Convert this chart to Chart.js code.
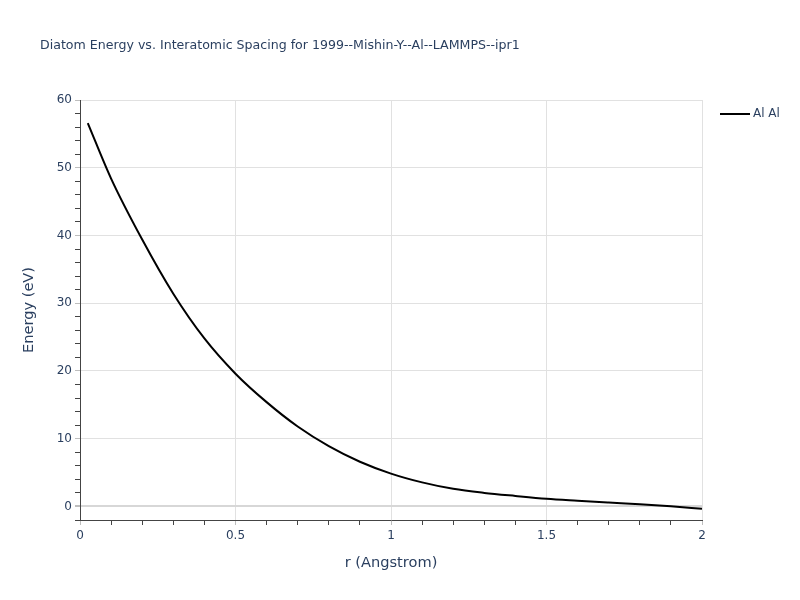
<!DOCTYPE html>
<html>
<head>
<meta charset="utf-8">
<script src="https://cdn.jsdelivr.net/npm/chart.js@4"></script>
<style>
  body { margin: 0; background: #fff; }
  canvas { display: block; }
</style>
</head>
<body>
<canvas id="myChart" width="800" height="600"></canvas>
<script>
const seriesName = 'Al Al';
const chartTitle = 'Diatom Energy vs. Interatomic Spacing for 1999--Mishin-Y--Al--LAMMPS--ipr1';
const rValues = [0.025, 0.1, 0.2, 0.3, 0.4, 0.5, 0.6, 0.7, 0.8, 0.9, 1.0,
                 1.1, 1.2, 1.3, 1.4, 1.5, 1.6, 1.7, 1.8, 1.9, 2.0];
const energyValues = [56.6, 48.4, 39.4, 31.4, 24.8, 19.6, 15.4, 11.8, 8.9, 6.6, 4.85,
                      3.55, 2.6, 2.0, 1.55, 1.14, 0.85, 0.58, 0.32, 0.02, -0.34];
const xTickLabels = ['0', '0.5', '1', '1.5', '2'];
const yTickLabels = ['0', '10', '20', '30', '40', '50', '60'];

const textColor = '#2a3f5f';
const gridColor = 'rgb(225,225,225)';
const majorTickColor = 'rgb(190,190,190)';
const fontFamily = '"DejaVu Sans", Verdana, sans-serif';

const points = rValues.map((r, i) => ({ x: r, y: energyValues[i] }));

// title and legend drawn at fixed spots outside the plot
const decorPlugin = {
  id: 'decor',
  afterDraw(chart) {
    const ctx = chart.ctx;
    ctx.save();
    ctx.fillStyle = textColor;
    ctx.font = '12.6px ' + fontFamily;
    ctx.textBaseline = 'middle';
    ctx.textAlign = 'left';
    ctx.fillText(chartTitle, 40, 46);

    ctx.strokeStyle = '#000';
    ctx.lineWidth = 2;
    ctx.beginPath();
    ctx.moveTo(720, 114);
    ctx.lineTo(750, 114);
    ctx.stroke();
    ctx.font = '12px ' + fontFamily;
    ctx.fillText(seriesName, 753, 114);
    ctx.restore();
  }
};

const isMajorX = v => Math.abs(v * 2 - Math.round(v * 2)) < 1e-6;
const isMajorY = v => Math.abs(v / 10 - Math.round(v / 10)) < 1e-6;

new Chart(document.getElementById('myChart'), {
  type: 'scatter',
  data: {
    datasets: [{
      label: seriesName,
      data: points,
      showLine: true,
      borderColor: '#000',
      borderWidth: 2,
      pointRadius: 0,
      cubicInterpolationMode: 'monotone',
      fill: false,
    }],
  },
  options: {
    responsive: false,
    animation: false,
    layout: { padding: { left: 0, top: 100, right: 98, bottom: 0 } },
    plugins: {
      legend: { display: false },
      tooltip: { enabled: false },
    },
    scales: {
      x: {
        type: 'linear',
        min: 0,
        max: 2,
        afterFit: s => { s.height = 80; },
        afterBuildTicks: s => {
          const t = [];
          for (let i = 0; i <= 20; i++) t.push({ value: i / 10 });
          s.ticks = t;
        },
        ticks: {
          autoSkip: false,
          maxRotation: 0,
          padding: 4,
          color: textColor,
          font: { family: fontFamily, size: 12 },
          callback: v => isMajorX(v) ? xTickLabels[Math.round(v * 2)] : '',
        },
        grid: {
          color: c => (c.tick && isMajorX(c.tick.value)) ? gridColor : 'rgba(0,0,0,0)',
          tickColor: c => (c.tick && isMajorX(c.tick.value)) ? majorTickColor : '#444',
          tickLength: 5,
        },
        border: { display: true, color: '#444', width: 1 },
        title: {
          display: true,
          text: 'r (Angstrom)',
          color: textColor,
          font: { family: fontFamily, size: 14.6 },
          padding: { top: 0, bottom: 28 },
        },
      },
      y: {
        type: 'linear',
        min: -2,
        max: 60,
        afterFit: s => { s.width = 80; },
        afterBuildTicks: s => {
          const t = [];
          for (let v = -2; v <= 60; v += 2) t.push({ value: v });
          s.ticks = t;
        },
        ticks: {
          autoSkip: false,
          padding: 3,
          color: textColor,
          font: { family: fontFamily, size: 12 },
          callback: v => isMajorY(v) ? yTickLabels[Math.round(v / 10)] : '',
        },
        grid: {
          color: c => (c.tick && isMajorY(c.tick.value)) ? (c.tick.value === 0 ? 'rgb(215,215,215)' : gridColor) : 'rgba(0,0,0,0)',
          lineWidth: c => (c.tick && c.tick.value === 0) ? 2 : 1,
          tickColor: c => (c.tick && isMajorY(c.tick.value)) ? majorTickColor : '#444',
          tickLength: 5,
        },
        border: { display: true, color: '#444', width: 1 },
        title: {
          display: true,
          text: 'Energy (eV)',
          color: textColor,
          font: { family: fontFamily, size: 14.6 },
          padding: { top: 20, bottom: 0 },
        },
      },
    },
  },
  plugins: [decorPlugin],
});
</script>
</body>
</html>
